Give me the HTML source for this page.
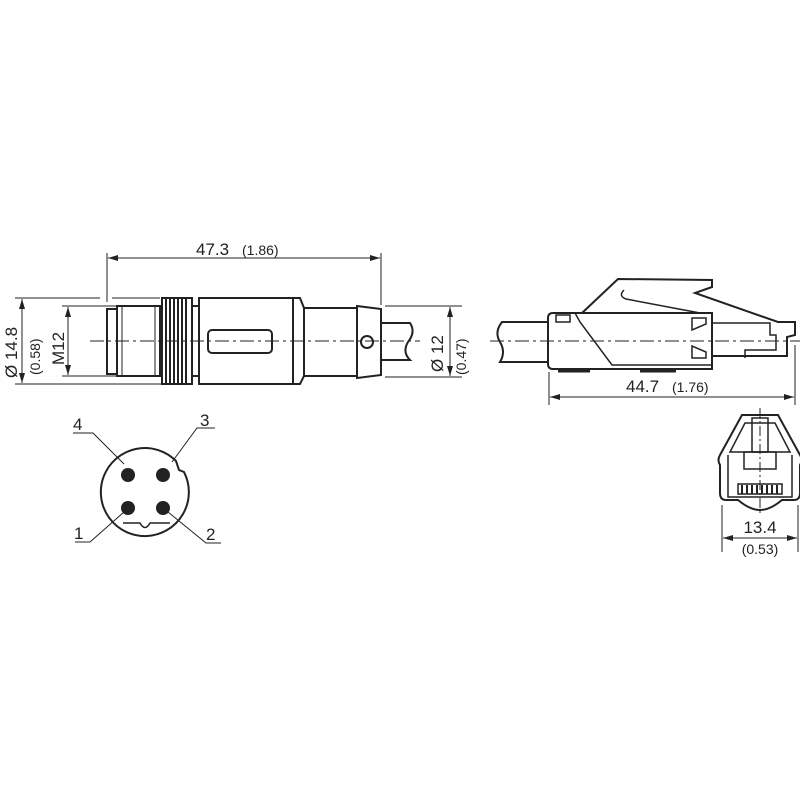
<!DOCTYPE html>
<html><head><style>body{margin:0;background:#fff}svg{display:block}text{font-family:"Liberation Sans",sans-serif;fill:#222}</style></head><body>
<svg width="800" height="800" viewBox="0 0 800 800" xmlns="http://www.w3.org/2000/svg">
<defs><marker id="a" viewBox="0 0 10 6" refX="10" refY="3" markerWidth="10" markerHeight="6" orient="auto-start-reverse" markerUnits="userSpaceOnUse"><path d="M0,0L10,3L0,6z" fill="#222"/></marker></defs>
<g stroke="#222" fill="none" stroke-width="1">
<!-- left dims -->
<line x1="107" y1="253" x2="107" y2="302"/><line x1="381" y1="253" x2="381" y2="305"/>
<line x1="108" y1="258" x2="380" y2="258" marker-start="url(#a)" marker-end="url(#a)"/>
<line x1="15" y1="298" x2="100" y2="298"/><line x1="112" y1="298" x2="160" y2="298"/><line x1="15" y1="384" x2="162" y2="384"/>
<line x1="22" y1="299" x2="22" y2="383" marker-start="url(#a)" marker-end="url(#a)"/>
<line x1="62" y1="306" x2="118" y2="306"/><line x1="62" y1="376" x2="118" y2="376"/>
<line x1="68" y1="307" x2="68" y2="375" marker-start="url(#a)" marker-end="url(#a)"/>
<line x1="385" y1="306" x2="462" y2="306"/><line x1="385" y1="377" x2="462" y2="377"/>
<line x1="450" y1="307" x2="450" y2="376" marker-start="url(#a)" marker-end="url(#a)"/>
</g>
<g stroke="#222" fill="none" stroke-width="2">
<rect x="107" y="309" width="10" height="65"/>
<rect x="117" y="306" width="43" height="70"/>
<line x1="122" y1="306" x2="122" y2="376" stroke-width="1"/><line x1="155" y1="306" x2="155" y2="376" stroke-width="1"/>
<rect x="162" y="298" width="30" height="86"/>
<line x1="192" y1="306" x2="199" y2="306"/><line x1="192" y1="376" x2="199" y2="376"/>
<rect x="199" y="298" width="94" height="86"/>
<path d="M293,298 L300,298 L304,308 L304,376 L300,384 L293,384"/>
<line x1="293" y1="298" x2="293" y2="384" stroke-width="1.5"/>
<rect x="208" y="330" width="64" height="23" rx="4"/>
<rect x="304" y="308" width="53" height="68"/>
<path d="M357,306 L381,309 L381,375 L357,378 Z"/>
<circle cx="367" cy="342" r="6"/>
<path d="M381,323 L410,323 Q416,332 408,342 Q402,352 410,360 L381,360"/>
</g>
<g stroke="#222" stroke-width="2">
<line x1="166" y1="299" x2="166" y2="383"/><line x1="170" y1="299" x2="170" y2="383"/><line x1="174" y1="299" x2="174" y2="383"/><line x1="178" y1="299" x2="178" y2="383"/><line x1="182" y1="299" x2="182" y2="383"/><line x1="186" y1="299" x2="186" y2="383"/>
</g>
<line x1="90" y1="341" x2="420" y2="341" stroke="#222" stroke-dasharray="14,4,3,4"/>
<text x="196" y="255" font-size="17">47.3</text><text x="242" y="255" font-size="14">(1.86)</text>
<text transform="translate(17,378) rotate(-90)" font-size="17">Ø 14.8</text>
<text transform="translate(40,375) rotate(-90)" font-size="14">(0.58)</text>
<text transform="translate(64,365) rotate(-90)" font-size="17">M12</text>
<text transform="translate(443,372) rotate(-90)" font-size="17">Ø 12</text>
<text transform="translate(466,375) rotate(-90)" font-size="14">(0.47)</text>
<!-- pin view -->
<g stroke="#222" fill="none" stroke-width="2">
<path d="M176,461 A44,44 0 1 0 184,472 L179,470 Z"/>
<path d="M123,523 L140,523 Q145,532 150,523 L170,523" stroke-width="1.5"/>
</g>
<g fill="#222"><circle cx="128" cy="475" r="7"/><circle cx="163" cy="475" r="7"/><circle cx="128" cy="508" r="7"/><circle cx="163" cy="508" r="7"/></g>
<g stroke="#222" fill="none"><path d="M73,433 L93,433 L124,464"/><path d="M215,428 L197,428 L172,462"/><path d="M75,542 L90,542 L124,512"/><path d="M221,543 L206,543 L168,512"/></g>
<g font-size="17"><text x="73" y="430">4</text><text x="200" y="426">3</text><text x="74" y="539">1</text><text x="206" y="540">2</text></g>
<!-- RJ45 side -->
<g stroke="#222" fill="none" stroke-width="2">
<path d="M549,322 L502,322 Q494,332 500,342 Q506,352 500,362 L549,362"/>
<path d="M553,313 L712,313 L712,369 L553,369 Q548,369 548,364 L548,318 Q548,313 553,313Z"/>
<path d="M575,313 L580,322 L612,365 L712,365" stroke-width="1.5"/>
<path d="M582,313 L618,279 L712,280 L712,287 L695,293 L778,322 L795,322 L795,335 L787,337 L787,356 L712,356"/>
<path d="M624,290 Q618,296 626,299 L700,313" stroke-width="1.5"/>
<rect x="556" y="315" width="14" height="7" stroke-width="1.5"/>
<path d="M692,318 L706,318 L706,324 L692,330Z" stroke-width="1.5"/>
<path d="M692,358 L706,358 L706,352 L692,346Z" stroke-width="1.5"/>
<path d="M712,323 L770,323 L770,335 L776,335 L776,350 L745,350 L745,358" stroke-width="1.5"/>
<line x1="558" y1="371" x2="590" y2="371" stroke-width="3"/><line x1="640" y1="371" x2="676" y2="371" stroke-width="3"/>
</g>
<line x1="490" y1="341" x2="800" y2="341" stroke="#222" stroke-dasharray="14,4,3,4"/>
<g stroke="#222" fill="none"><line x1="549" y1="372" x2="549" y2="405"/><line x1="795" y1="345" x2="795" y2="405"/>
<line x1="550" y1="397" x2="794" y2="397" marker-start="url(#a)" marker-end="url(#a)"/></g>
<text x="626" y="392" font-size="17">44.7</text><text x="672" y="392" font-size="14">(1.76)</text>
<!-- RJ45 front -->
<g stroke="#222" fill="none" stroke-width="2">
<path d="M742,415 L778,415 L800,455 Q803,460 800,465 L800,493 Q800,500 794,500 L782,500 Q770,510 760,510 Q750,510 738,500 L726,500 Q720,500 720,493 L720,465 Q717,460 720,455 Z"/>
<path d="M745,423 L775,423 L790,452 L730,452 Z" stroke-width="1.5"/>
<rect x="752" y="418" width="16" height="34" stroke-width="1.5"/>
<rect x="744" y="452" width="32" height="17" stroke-width="1.5"/>
<path d="M728,455 L728,497 L792,497 L792,455" stroke-width="1.5"/>
<rect x="738" y="484" width="44" height="10" stroke-width="1.5"/>
</g>
<g stroke="#222" stroke-width="2"><line x1="742" y1="485" x2="742" y2="494"/><line x1="747" y1="485" x2="747" y2="494"/><line x1="752" y1="485" x2="752" y2="494"/><line x1="757" y1="485" x2="757" y2="494"/><line x1="762" y1="485" x2="762" y2="494"/><line x1="767" y1="485" x2="767" y2="494"/><line x1="772" y1="485" x2="772" y2="494"/><line x1="777" y1="485" x2="777" y2="494"/></g>
<line x1="760" y1="408" x2="760" y2="515" stroke="#222" stroke-dasharray="10,3,2,3"/>
<g stroke="#222" fill="none"><line x1="722" y1="505" x2="722" y2="552"/><line x1="798" y1="505" x2="798" y2="552"/>
<line x1="723" y1="538" x2="797" y2="538" marker-start="url(#a)" marker-end="url(#a)"/></g>
<text x="760" y="533" font-size="17" text-anchor="middle">13.4</text>
<text x="760" y="554" font-size="14" text-anchor="middle">(0.53)</text>
</svg>
</body></html>
